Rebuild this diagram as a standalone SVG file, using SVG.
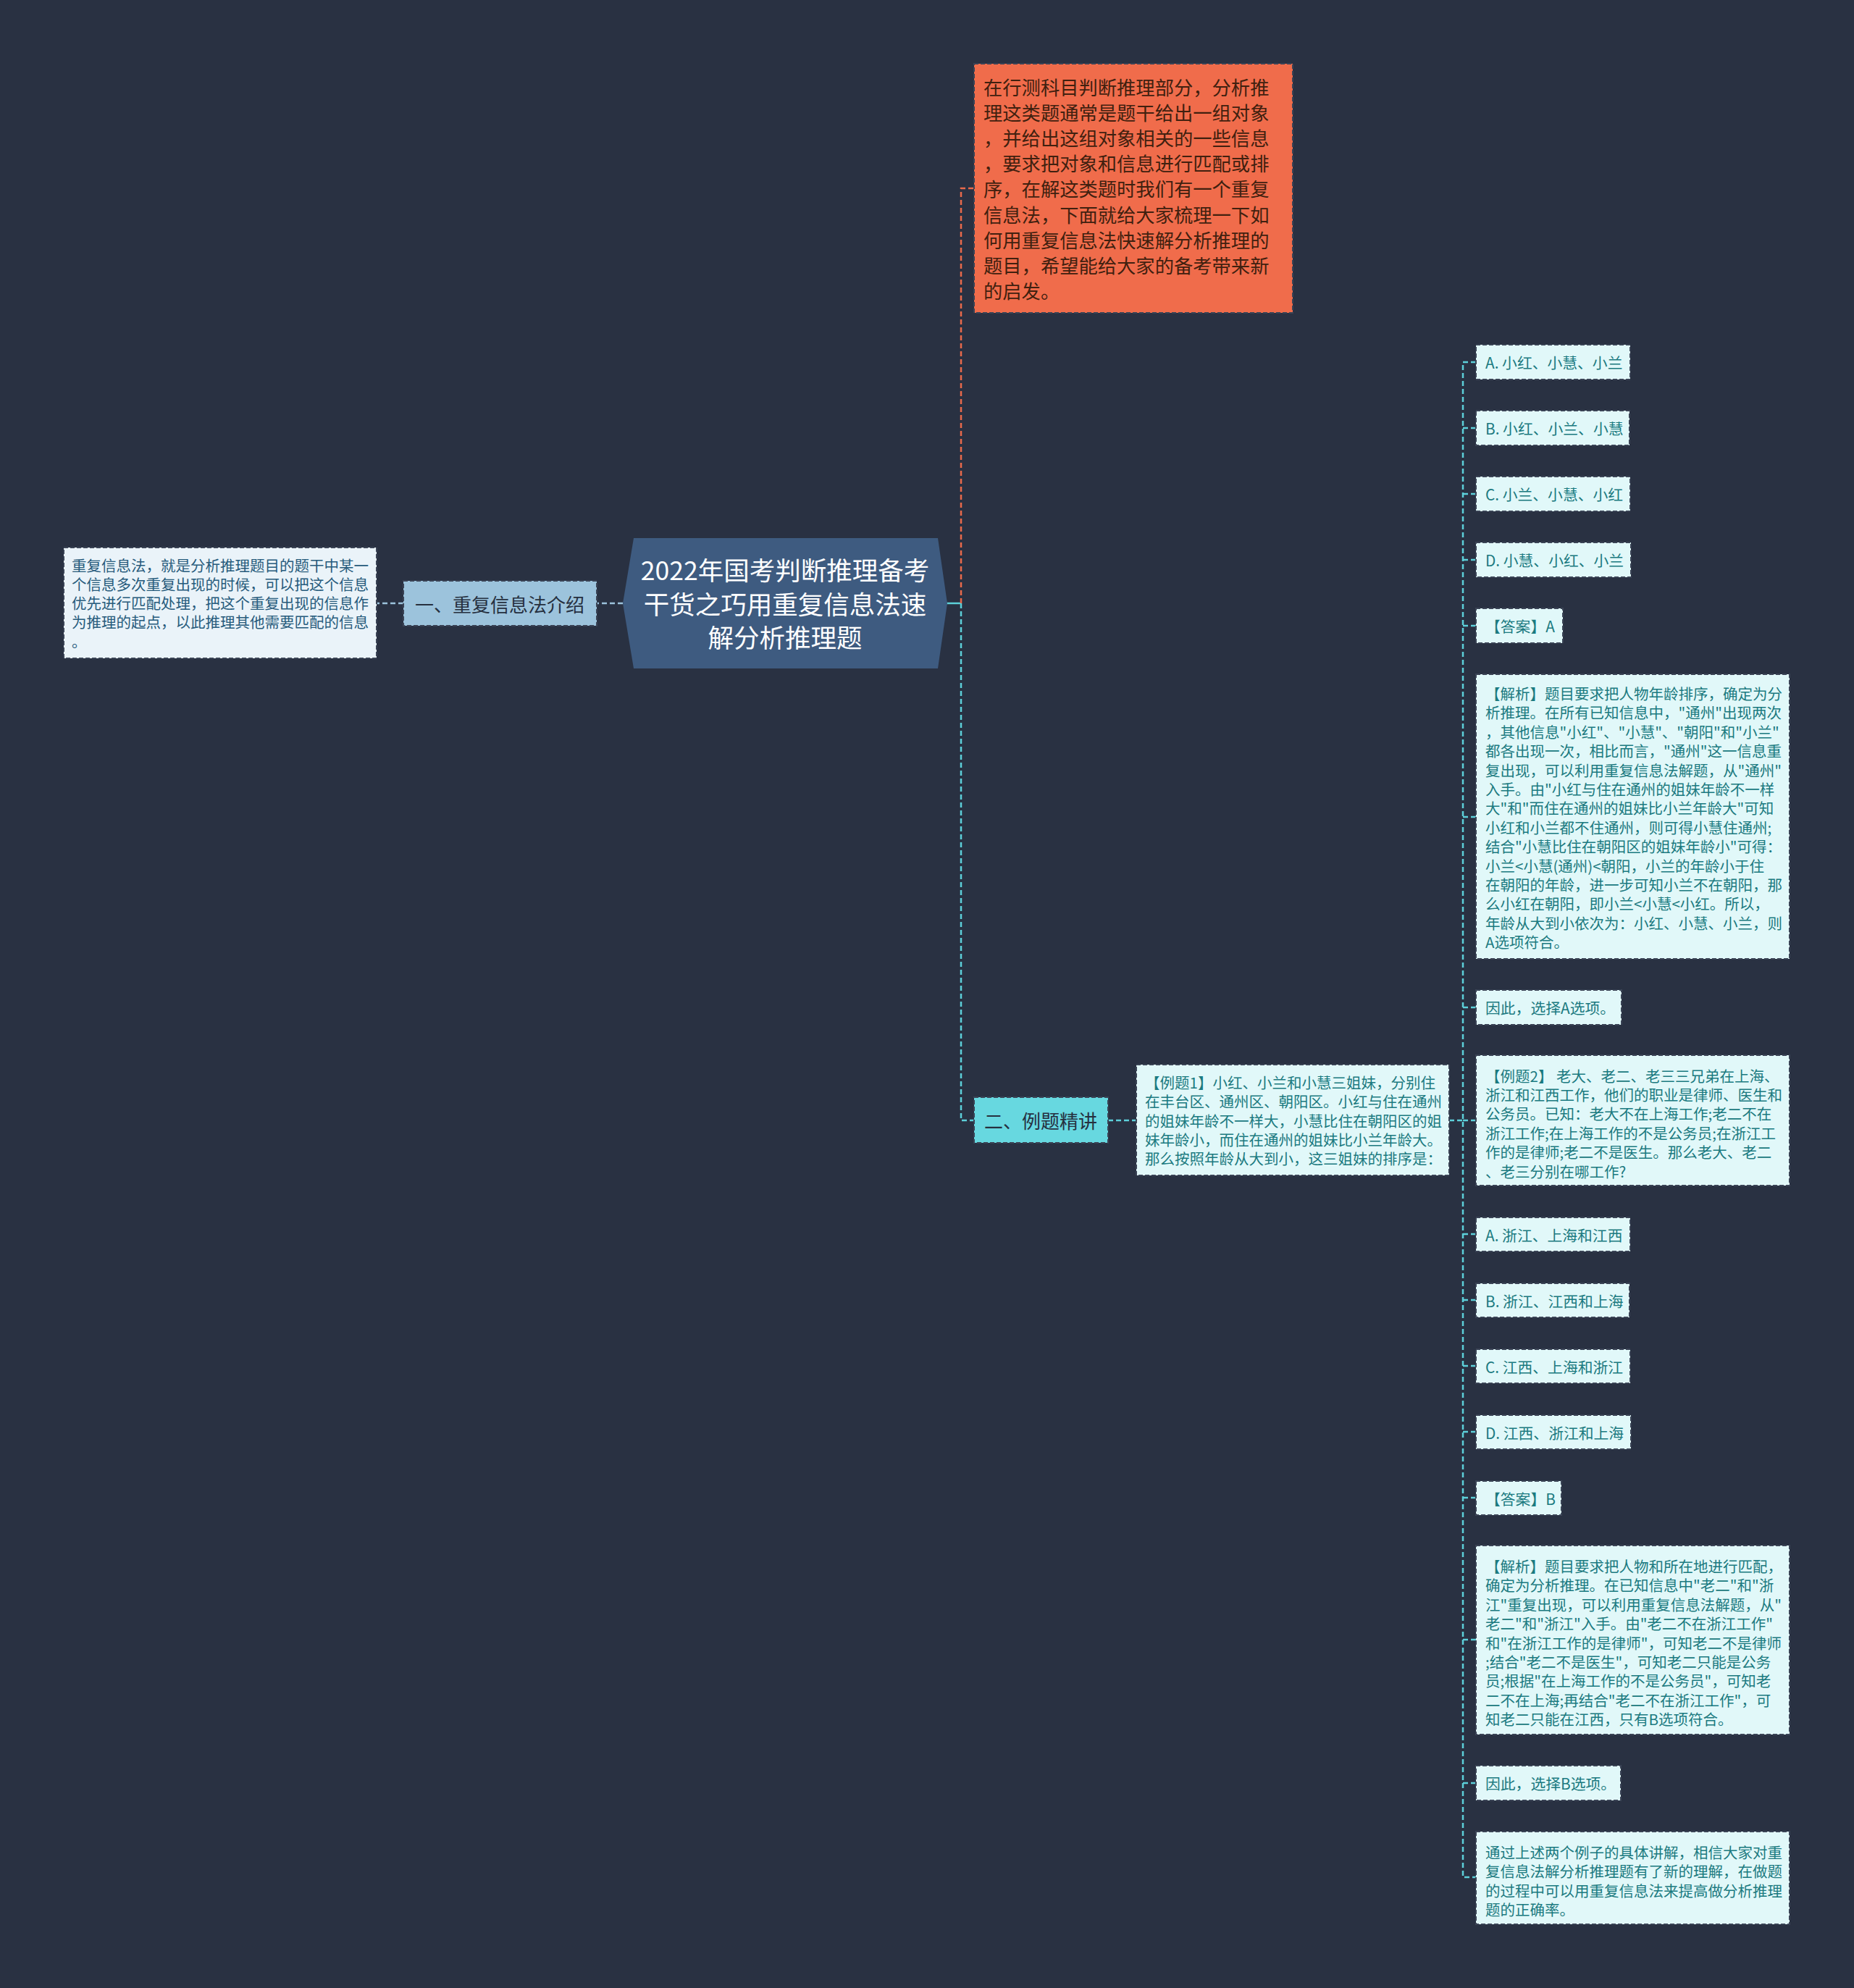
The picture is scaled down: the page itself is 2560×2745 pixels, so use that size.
<svg xmlns="http://www.w3.org/2000/svg" width="2560" height="2745" viewBox="0 0 2560 2745">
<style>
text{font-family:"Noto Sans CJK SC","Noto Sans",sans-serif;dominant-baseline:central}
.leaf rect{fill:#e1f8f9;stroke:#3a4355;stroke-width:2;stroke-dasharray:6 3}
.leaf text{fill:#1b7a80;font-size:20.5px}
.opt text{font-size:20.8px}
.ltxt rect{fill:#eaf3f9;stroke:#3a4355;stroke-width:2;stroke-dasharray:6 3}
.ltxt text{fill:#275b7c;font-size:20.5px}
.c{fill:none;stroke-width:2.5;stroke-dasharray:7 4}
.cy{stroke:#5dd0d9}
.or{stroke:#e96a4b}
.lb{stroke:#9cc3dc}
</style>
<rect x="0" y="0" width="2560" height="2745" fill="#293142"/>
<g id="connectors">
<path d="M1306,833 H1327" fill="none" stroke="#5dd0d9" stroke-width="2.5"/>
<path class="c or" d="M1327,833 V260 H1345"/>
<path class="c cy" d="M1327,833 V1547 H1345"/>
<path class="c lb" d="M860,833 H824"/>
<path class="c lb" d="M557,833 H520"/>
<path class="c cy" d="M1530,1547 H1569"/>
<path class="c cy" d="M2001,1547 H2020"/>
<path class="c cy" d="M2038,500 H2020 V2592 H2038"/>
<path class="c cy" d="M2020,591 H2038 M2020,682 H2038 M2020,773 H2038 M2020,864 H2038 M2020,1128 H2038 M2020,1391 H2038 M2020,1547 H2038 M2020,1704 H2038 M2020,1795 H2038 M2020,1886 H2038 M2020,1977 H2038 M2020,2068 H2038 M2020,2264 H2038 M2020,2462 H2038"/>
</g>
<g id="root">
<path d="M875,743 H1295 L1308,833 L1295,923 H875 L860,833 Z" fill="#3e5b80"/>
<text x="1084" y="785" font-size="35.5" fill="#ffffff" text-anchor="middle">2022年国考判断推理备考</text>
<text x="1084" y="832" font-size="35.5" fill="#ffffff" text-anchor="middle">干货之巧用重复信息法速</text>
<text x="1084" y="878" font-size="35.5" fill="#ffffff" text-anchor="middle">解分析推理题</text>
</g>
<g id="intro">
<rect x="557" y="802" width="267" height="62" fill="#9cc3dc" stroke="#3a4355" stroke-width="2" stroke-dasharray="6 3"/>
<text x="690" y="833" font-size="26" fill="#26303f" text-anchor="middle">一、重复信息法介绍</text>
</g>
<g id="intro-text" class="ltxt">
<rect x="88" y="756" width="432" height="153"/>
<text x="99" y="779.5">重复信息法，就是分析推理题目的题干中某一</text>
<text x="99" y="805.8">个信息多次重复出现的时候，可以把这个信息</text>
<text x="99" y="832.1">优先进行匹配处理，把这个重复出现的信息作</text>
<text x="99" y="858.4">为推理的起点，以此推理其他需要匹配的信息</text>
<text x="99" y="884.7">。</text>
</g>
<g id="lead">
<rect x="1345" y="88" width="440" height="344" fill="#f06c4b" stroke="#3a4355" stroke-width="2" stroke-dasharray="6 3"/>
<g font-size="26.3" fill="#40200f">
<text x="1358" y="119">在行测科目判断推理部分，分析推</text>
<text x="1358" y="154.2">理这类题通常是题干给出一组对象</text>
<text x="1358" y="189.4">，并给出这组对象相关的一些信息</text>
<text x="1358" y="224.6">，要求把对象和信息进行匹配或排</text>
<text x="1358" y="259.8">序，在解这类题时我们有一个重复</text>
<text x="1358" y="295">信息法，下面就给大家梳理一下如</text>
<text x="1358" y="330.2">何用重复信息法快速解分析推理的</text>
<text x="1358" y="365.4">题目，希望能给大家的备考带来新</text>
<text x="1358" y="400.6">的启发。</text>
</g>
</g>
<g id="examples">
<rect x="1345" y="1515" width="185" height="63" fill="#67d8e0" stroke="#3a4355" stroke-width="2" stroke-dasharray="6 3"/>
<text x="1437" y="1546" font-size="26" fill="#26303f" text-anchor="middle">二、例题精讲</text>
</g>
<g id="ex1" class="leaf">
<rect x="1569" y="1470" width="432" height="153"/>
<text x="1581" y="1494">【例题1】小红、小兰和小慧三姐妹，分别住</text>
<text x="1581" y="1520.3">在丰台区、通州区、朝阳区。小红与住在通州</text>
<text x="1581" y="1546.6">的姐妹年龄不一样大，小慧比住在朝阳区的姐</text>
<text x="1581" y="1572.9">妹年龄小，而住在通州的姐妹比小兰年龄大。</text>
<text x="1581" y="1599.2">那么按照年龄从大到小，这三姐妹的排序是：</text>
</g>
<g id="q1a" class="leaf opt"><rect x="2038" y="476" width="213" height="48"/><text x="2051" y="500">A. 小红、小慧、小兰</text></g>
<g id="q1b" class="leaf opt"><rect x="2038" y="567" width="212" height="48"/><text x="2051" y="591">B. 小红、小兰、小慧</text></g>
<g id="q1c" class="leaf opt"><rect x="2038" y="658" width="213" height="48"/><text x="2051" y="682">C. 小兰、小慧、小红</text></g>
<g id="q1d" class="leaf opt"><rect x="2038" y="749" width="214" height="48"/><text x="2051" y="773">D. 小慧、小红、小兰</text></g>
<g id="q1ans" class="leaf opt"><rect x="2038" y="840" width="120" height="48"/><text x="2051" y="864">【答案】A</text></g>
<g id="q1exp" class="leaf">
<rect x="2038" y="931" width="433" height="393"/>
<text x="2051" y="957">【解析】题目要求把人物年龄排序，确定为分</text>
<text x="2051" y="983.4">析推理。在所有已知信息中，"通州"出现两次</text>
<text x="2051" y="1009.8">，其他信息"小红"、"小慧"、"朝阳"和"小兰"</text>
<text x="2051" y="1036.2">都各出现一次，相比而言，"通州"这一信息重</text>
<text x="2051" y="1062.6">复出现，可以利用重复信息法解题，从"通州"</text>
<text x="2051" y="1089">入手。由"小红与住在通州的姐妹年龄不一样</text>
<text x="2051" y="1115.4">大"和"而住在通州的姐妹比小兰年龄大"可知</text>
<text x="2051" y="1141.8">小红和小兰都不住通州，则可得小慧住通州;</text>
<text x="2051" y="1168.2">结合"小慧比住在朝阳区的姐妹年龄小"可得：</text>
<text x="2051" y="1194.6">小兰&lt;小慧(通州)&lt;朝阳，小兰的年龄小于住</text>
<text x="2051" y="1221">在朝阳的年龄，进一步可知小兰不在朝阳，那</text>
<text x="2051" y="1247.4">么小红在朝阳，即小兰&lt;小慧&lt;小红。所以，</text>
<text x="2051" y="1273.8">年龄从大到小依次为：小红、小慧、小兰，则</text>
<text x="2051" y="1300.2">A选项符合。</text>
</g>
<g id="q1sel" class="leaf opt"><rect x="2038" y="1367" width="201" height="48"/><text x="2051" y="1391">因此，选择A选项。</text></g>
<g id="ex2" class="leaf">
<rect x="2038" y="1457" width="433" height="180"/>
<text x="2051" y="1484.5">【例题2】 老大、老二、老三三兄弟在上海、</text>
<text x="2051" y="1510.9">浙江和江西工作，他们的职业是律师、医生和</text>
<text x="2051" y="1537.3">公务员。已知：老大不在上海工作;老二不在</text>
<text x="2051" y="1563.7">浙江工作;在上海工作的不是公务员;在浙江工</text>
<text x="2051" y="1590.1">作的是律师;老二不是医生。那么老大、老二</text>
<text x="2051" y="1616.5">、老三分别在哪工作?</text>
</g>
<g id="q2a" class="leaf opt"><rect x="2038" y="1681" width="213" height="47"/><text x="2051" y="1704.5">A. 浙江、上海和江西</text></g>
<g id="q2b" class="leaf opt"><rect x="2038" y="1772" width="212" height="47"/><text x="2051" y="1795.5">B. 浙江、江西和上海</text></g>
<g id="q2c" class="leaf opt"><rect x="2038" y="1863" width="213" height="47"/><text x="2051" y="1886.5">C. 江西、上海和浙江</text></g>
<g id="q2d" class="leaf opt"><rect x="2038" y="1954" width="214" height="47"/><text x="2051" y="1977.5">D. 江西、浙江和上海</text></g>
<g id="q2ans" class="leaf opt"><rect x="2038" y="2045" width="118" height="47"/><text x="2051" y="2068.5">【答案】B</text></g>
<g id="q2exp" class="leaf">
<rect x="2038" y="2134" width="433" height="261"/>
<text x="2051" y="2162">【解析】题目要求把人物和所在地进行匹配，</text>
<text x="2051" y="2188.4">确定为分析推理。在已知信息中"老二"和"浙</text>
<text x="2051" y="2214.8">江"重复出现，可以利用重复信息法解题，从"</text>
<text x="2051" y="2241.2">老二"和"浙江"入手。由"老二不在浙江工作"</text>
<text x="2051" y="2267.6">和"在浙江工作的是律师"，可知老二不是律师</text>
<text x="2051" y="2294">;结合"老二不是医生"，可知老二只能是公务</text>
<text x="2051" y="2320.4">员;根据"在上海工作的不是公务员"，可知老</text>
<text x="2051" y="2346.8">二不在上海;再结合"老二不在浙江工作"，可</text>
<text x="2051" y="2373.2">知老二只能在江西，只有B选项符合。</text>
</g>
<g id="q2sel" class="leaf opt"><rect x="2038" y="2438" width="200" height="48"/><text x="2051" y="2462">因此，选择B选项。</text></g>
<g id="summary" class="leaf">
<rect x="2038" y="2529" width="433" height="128"/>
<text x="2051" y="2557">通过上述两个例子的具体讲解，相信大家对重</text>
<text x="2051" y="2583.4">复信息法解分析推理题有了新的理解，在做题</text>
<text x="2051" y="2609.8">的过程中可以用重复信息法来提高做分析推理</text>
<text x="2051" y="2636.2">题的正确率。</text>
</g>
</svg>
